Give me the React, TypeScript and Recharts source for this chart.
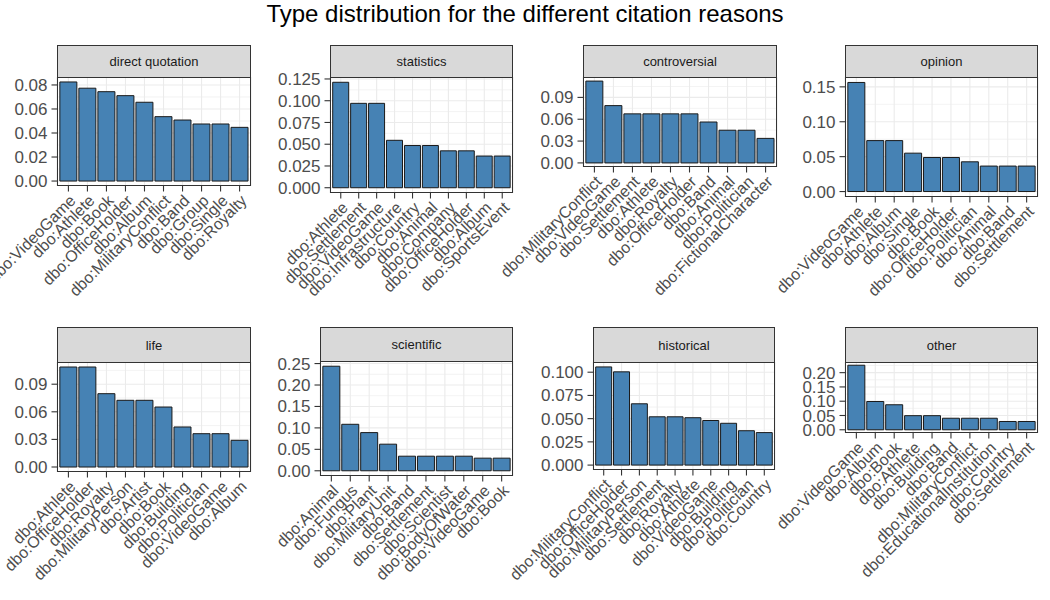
import React from "react";
import { BarChart, Bar, XAxis, YAxis, CartesianGrid } from "recharts";

const TITLE = "Type distribution for the different citation reasons";

const quotationCats = ["dbo:VideoGame", "dbo:Athlete", "dbo:Book", "dbo:OfficeHolder", "dbo:Album", "dbo:MilitaryConflict", "dbo:Band", "dbo:Group", "dbo:Single", "dbo:Royalty"];
const quotationVals = [0.0825, 0.0773, 0.0744, 0.0711, 0.0656, 0.0536, 0.0508, 0.0475, 0.0475, 0.0447];
const quotationTicks = ["0.00", "0.02", "0.04", "0.06", "0.08"];

const statisticsCats = ["dbo:Athlete", "dbo:Settlement", "dbo:VideoGame", "dbo:Infrastructure", "dbo:Country", "dbo:Animal", "dbo:Company", "dbo:OfficeHolder", "dbo:Album", "dbo:SportsEvent"];
const statisticsVals = [0.1212, 0.097, 0.097, 0.0545, 0.0485, 0.0485, 0.0424, 0.0424, 0.0364, 0.0364];
const statisticsTicks = ["0.000", "0.025", "0.050", "0.075", "0.100", "0.125"];

const controversialCats = ["dbo:MilitaryConflict", "dbo:VideoGame", "dbo:Settlement", "dbo:Athlete", "dbo:Royalty", "dbo:OfficeHolder", "dbo:Band", "dbo:Animal", "dbo:Politician", "dbo:FictionalCharacter"];
const controversialVals = [0.1124, 0.0787, 0.0674, 0.0674, 0.0674, 0.0674, 0.0562, 0.0449, 0.0449, 0.0337];
const controversialTicks = ["0.00", "0.03", "0.06", "0.09"];

const opinionCats = ["dbo:VideoGame", "dbo:Athlete", "dbo:Album", "dbo:Single", "dbo:Book", "dbo:OfficeHolder", "dbo:Politician", "dbo:Animal", "dbo:Band", "dbo:Settlement"];
const opinionVals = [0.1563, 0.073, 0.073, 0.055, 0.0488, 0.0488, 0.0426, 0.0365, 0.0365, 0.0365];
const opinionTicks = ["0.00", "0.05", "0.10", "0.15"];

const lifeCats = ["dbo:Athlete", "dbo:OfficeHolder", "dbo:Royalty", "dbo:MilitaryPerson", "dbo:Artist", "dbo:Book", "dbo:Building", "dbo:Politician", "dbo:VideoGame", "dbo:Album"];
const lifeVals = [0.1087, 0.1087, 0.0797, 0.0725, 0.0725, 0.0652, 0.0435, 0.0362, 0.0362, 0.029];
const lifeTicks = ["0.00", "0.03", "0.06", "0.09"];

const scientificCats = ["dbo:Animal", "dbo:Fungus", "dbo:Plant", "dbo:MilitaryUnit", "dbo:Band", "dbo:Settlement", "dbo:Scientist", "dbo:BodyOfWater", "dbo:VideoGame", "dbo:Book"];
const scientificVals = [0.2438, 0.1084, 0.089, 0.062, 0.034, 0.034, 0.034, 0.034, 0.0294, 0.0294];
const scientificTicks = ["0.00", "0.05", "0.10", "0.15", "0.20", "0.25"];

const historicalCats = ["dbo:MilitaryConflict", "dbo:OfficeHolder", "dbo:MilitaryPerson", "dbo:Settlement", "dbo:Royalty", "dbo:Athlete", "dbo:VideoGame", "dbo:Building", "dbo:Politician", "dbo:Country"];
const historicalVals = [0.1057, 0.1004, 0.066, 0.052, 0.052, 0.051, 0.048, 0.045, 0.037, 0.035];
const historicalTicks = ["0.000", "0.025", "0.050", "0.075", "0.100"];

const otherCats = ["dbo:VideoGame", "dbo:Album", "dbo:Book", "dbo:Athlete", "dbo:Building", "dbo:Band", "dbo:MilitaryConflict", "dbo:EducationalInstitution", "dbo:Country", "dbo:Settlement"];
const otherVals = [0.226, 0.099, 0.0876, 0.0494, 0.0494, 0.0404, 0.0404, 0.0404, 0.029, 0.029];
const otherTicks = ["0.00", "0.05", "0.10", "0.15", "0.20"];

const panels = [
  { title: "direct quotation", cats: quotationCats, vals: quotationVals, ticks: quotationTicks },
  { title: "statistics", cats: statisticsCats, vals: statisticsVals, ticks: statisticsTicks },
  { title: "controversial", cats: controversialCats, vals: controversialVals, ticks: controversialTicks },
  { title: "opinion", cats: opinionCats, vals: opinionVals, ticks: opinionTicks },
  { title: "life", cats: lifeCats, vals: lifeVals, ticks: lifeTicks },
  { title: "scientific", cats: scientificCats, vals: scientificVals, ticks: scientificTicks },
  { title: "historical", cats: historicalCats, vals: historicalVals, ticks: historicalTicks },
  { title: "other", cats: otherCats, vals: otherVals, ticks: otherTicks },
];

// plot rectangles (left, top, width, height) and top of the strip
const layout = [
  { x: 57, y: 77, w: 194, h: 109, strip: 45 },
  { x: 330, y: 77, w: 183, h: 116, strip: 45 },
  { x: 583, y: 77, w: 194, h: 90, strip: 45 },
  { x: 845, y: 77, w: 193, h: 120, strip: 45 },
  { x: 57, y: 362, w: 194, h: 110, strip: 327 },
  { x: 320, y: 361, w: 193, h: 115, strip: 327 },
  { x: 593, y: 362, w: 182, h: 108, strip: 327 },
  { x: 845, y: 362, w: 193, h: 71, strip: 327 },
];

const FONT = '"Liberation Sans", Arial, Helvetica, sans-serif';
const YW = 60;
const XH = 170;

function XTick(props: any) {
  const { x, y, payload } = props;
  return (
    <text
      x={x}
      y={y}
      transform={`rotate(-45 ${x} ${y})`}
      textAnchor="end"
      dy="0.72em"
      fontSize={16}
      fill="#4D4D4D"
    >
      {payload.value}
    </text>
  );
}

function Panel({ p, l }: { p: (typeof panels)[number]; l: (typeof layout)[number] }) {
  const data = p.cats.map((c, i) => ({ cat: c, value: p.vals[i] }));
  const max = Math.max(...p.vals);
  const lo = -0.05 * max;
  const hi = 1.05 * max;
  const major = p.ticks.map(Number);
  const step = major[1] - major[0];
  const minor = [...major, major[major.length - 1] + step]
    .slice(1)
    .map((t) => t - step / 2)
    .filter((t) => t > lo && t < hi);
  const pad = l.w / 102;
  return (
    <>
      <div
        style={{
          position: "absolute",
          left: l.x,
          top: l.strip,
          width: l.w,
          height: l.y - l.strip + 1,
          boxSizing: "border-box",
          border: "1px solid #333",
          background: "#D9D9D9",
          color: "#1A1A1A",
          fontSize: 13,
          display: "flex",
          alignItems: "center",
          justifyContent: "center",
        }}
      >
        {p.title}
      </div>
      <div style={{ position: "absolute", left: l.x - YW, top: l.y }}>
        <BarChart
          width={l.w + YW}
          height={l.h + XH}
          data={data}
          margin={{ top: 0, right: 0, bottom: 0, left: 0 }}
          barCategoryGap="5%"
        >
          <CartesianGrid horizontalValues={minor} vertical={false} stroke="#EBEBEB" strokeWidth={0.6} />
          <CartesianGrid horizontalValues={major} stroke="#EBEBEB" strokeWidth={1.1} />
          <XAxis
            dataKey="cat"
            type="category"
            interval={0}
            height={XH}
            padding={{ left: pad, right: pad }}
            axisLine={false}
            tickSize={5.5}
            tickMargin={2}
            tickLine={{ stroke: "#333", strokeWidth: 1.1 }}
            tick={<XTick />}
          />
          <YAxis
            type="number"
            width={YW}
            domain={[lo, hi]}
            allowDataOverflow
            ticks={major}
            interval={0}
            tickFormatter={(v: number) => p.ticks[major.indexOf(v)] ?? String(v)}
            axisLine={false}
            tickSize={5.5}
            tickMargin={4}
            tickLine={{ stroke: "#333", strokeWidth: 1.1 }}
            tick={{ fill: "#4D4D4D", fontSize: 17 }}
          />
          <Bar dataKey="value" fill="#4682B4" stroke="#1A1A1A" strokeWidth={1} isAnimationActive={false} />
        </BarChart>
      </div>
      <div
        style={{
          position: "absolute",
          left: l.x,
          top: l.y,
          width: l.w,
          height: l.h,
          boxSizing: "border-box",
          border: "1px solid #333",
          pointerEvents: "none",
        }}
      />
    </>
  );
}

export default function App() {
  return (
    <div
      style={{
        position: "absolute",
        left: 0,
        top: 0,
        width: 1050,
        height: 600,
        background: "#fff",
        overflow: "hidden",
        fontFamily: FONT,
      }}
    >
      <style>{`.recharts-surface { overflow: visible; } .recharts-wrapper { overflow: visible; }`}</style>
      <div
        style={{
          position: "absolute",
          left: 0,
          top: 0,
          width: 1050,
          textAlign: "center",
          fontSize: 24,
          lineHeight: "27px",
          color: "#000",
        }}
      >
        {TITLE}
      </div>
      {panels.map((p, i) => (
        <Panel key={p.title} p={p} l={layout[i]} />
      ))}
    </div>
  );
}
